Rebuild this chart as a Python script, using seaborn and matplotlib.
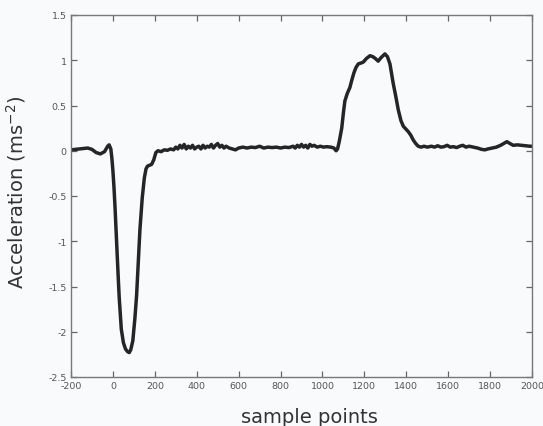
import matplotlib
matplotlib.use("Agg")
import matplotlib.pyplot as plt
from matplotlib import font_manager
import seaborn as sns
import pandas as pd

# Acceleration trace: sample index and measured acceleration (m/s^2)
samples = [
    -200, -180, -160, -140, -120, -100, -80, -60, -40, -25, -18, -10, -5,
    0, 5, 10, 15, 20, 25, 30, 40, 50, 60, 70, 78, 85, 95, 105, 113, 120,
    129, 140, 150, 158, 165, 175, 185, 195, 205, 215, 230, 245, 260, 275,
    290, 300, 310, 320, 330, 340, 350, 360, 370, 380, 390, 400, 410, 420,
    430, 440, 450, 460, 470, 480, 490, 500, 510, 520, 530, 540, 555, 570,
    585, 600, 620, 640, 660, 680, 700, 720, 740, 760, 780, 800, 820, 840,
    860, 870, 880, 890, 900, 910, 920, 930, 940, 950, 960, 975, 990, 1005,
    1020, 1040, 1055, 1065, 1072, 1080, 1092, 1100, 1107, 1118, 1131, 1140,
    1150, 1160, 1171, 1185, 1195, 1210, 1227, 1240, 1252, 1266, 1280, 1298,
    1310, 1322, 1330, 1338, 1350, 1362, 1375, 1386, 1398, 1410, 1422, 1433,
    1445, 1457, 1470, 1485, 1500, 1520, 1535, 1550, 1565, 1580, 1595, 1610,
    1625, 1640, 1655, 1670, 1685, 1700, 1720, 1740, 1760, 1775, 1790, 1810,
    1830, 1850, 1865, 1880, 1895, 1910, 1930, 1950, 1970, 1990, 2000,
]
acceleration = [
    0.01, 0.015, 0.02, 0.025, 0.03, 0.015, -0.02, -0.035, -0.01, 0.05, 0.065, 0.02, -0.08,
    -0.22, -0.4, -0.62, -0.88, -1.12, -1.38, -1.62, -1.97, -2.12, -2.19, -2.22, -2.23, -2.2, -2.1, -1.85, -1.6, -1.27,
    -0.87, -0.52, -0.3, -0.2, -0.17, -0.16, -0.15, -0.1, -0.02, 0.0, -0.01, 0.01, 0.005, 0.02,
    0.01, 0.04, 0.02, 0.06, 0.03, 0.07, 0.02, 0.05, 0.03, 0.06, 0.02, 0.04, 0.05, 0.02,
    0.06, 0.03, 0.05, 0.04, 0.07, 0.03, 0.06, 0.08, 0.04, 0.06, 0.03, 0.05, 0.03, 0.02,
    0.01, 0.03, 0.04, 0.03, 0.04, 0.035, 0.05, 0.03, 0.04, 0.035, 0.04, 0.03, 0.04, 0.035,
    0.05, 0.03, 0.06, 0.04, 0.07, 0.04, 0.06, 0.03, 0.07, 0.05, 0.06, 0.04, 0.05, 0.04,
    0.045, 0.04, 0.03, 0.0, 0.02, 0.1, 0.25, 0.42, 0.55, 0.63, 0.7, 0.78,
    0.86, 0.92, 0.96, 0.97, 0.98, 1.02, 1.05, 1.04, 1.02, 0.99, 1.03, 1.07,
    1.04, 0.96, 0.85, 0.74, 0.6, 0.45, 0.33, 0.27, 0.24, 0.21, 0.17, 0.12,
    0.08, 0.05, 0.04, 0.05, 0.04, 0.05, 0.04, 0.055, 0.04, 0.045, 0.06, 0.04,
    0.045, 0.035, 0.05, 0.06, 0.04, 0.05, 0.04, 0.03, 0.015, 0.01, 0.02, 0.03,
    0.04, 0.06, 0.08, 0.1, 0.08, 0.06, 0.065, 0.06, 0.055, 0.05, 0.05,
]

x_ticks = list(range(-200, 2001, 200))
y_ticks = [-2.5, -2, -1.5, -1, -0.5, 0, 0.5, 1, 1.5]
y_tick_labels = ["-2.5", "-2", "-1.5", "-1", "-0.5", "0", "0.5", "1", "1.5"]

df = pd.DataFrame({"sample": samples, "acc": acceleration})

sns.set_style("ticks")
plt.rcParams["font.family"] = ["DejaVu Sans"]

# narrow face for the tick numbers when one is installed
installed = {f.name for f in font_manager.fontManager.ttflist}
narrow = "Liberation Sans Narrow" if "Liberation Sans Narrow" in installed else None
if narrow:
    tick_family, tick_size = [narrow], 8.0
else:
    tick_family, tick_size = ["DejaVu Sans"], 6.8

fig = plt.figure(figsize=(5.43, 4.27), dpi=100)
fig.patch.set_facecolor("#f9fafb")
ax = fig.add_axes([71 / 543, 49 / 427, 461 / 543, 362 / 427])
ax.set_facecolor("#f9fafb")

sns.lineplot(data=df, x="sample", y="acc", ax=ax, color="#252525",
             linewidth=2.5, sort=False, estimator=None)

ax.set_xlim(-200, 2000)
ax.set_ylim(-2.5, 1.5)
ax.set_xticks(x_ticks)
ax.set_xticklabels([str(t) for t in x_ticks])
ax.set_yticks(y_ticks)
ax.set_yticklabels(y_tick_labels)

for lab in ax.get_xticklabels() + ax.get_yticklabels():
    lab.set_fontfamily(tick_family)
    lab.set_fontsize(tick_size)
    lab.set_color("#555555")

ax.tick_params(axis="both", direction="in", length=4, width=0.9,
               color="#666666", top=True, right=True, pad=3)
for side in ax.spines.values():
    side.set_visible(True)
    side.set_color("#777777")
    side.set_linewidth(1.0)

ax.set_xlabel("sample points", fontsize=14, color="#333333")
ax.set_ylabel("Acceleration (ms$^{-2}$)", fontsize=14, color="#333333")
ax.xaxis.set_label_coords(0.518, -0.083)
ax.yaxis.set_label_coords(-0.093, 0.514)

fig.savefig("out.png", dpi=100, facecolor=fig.get_facecolor())
